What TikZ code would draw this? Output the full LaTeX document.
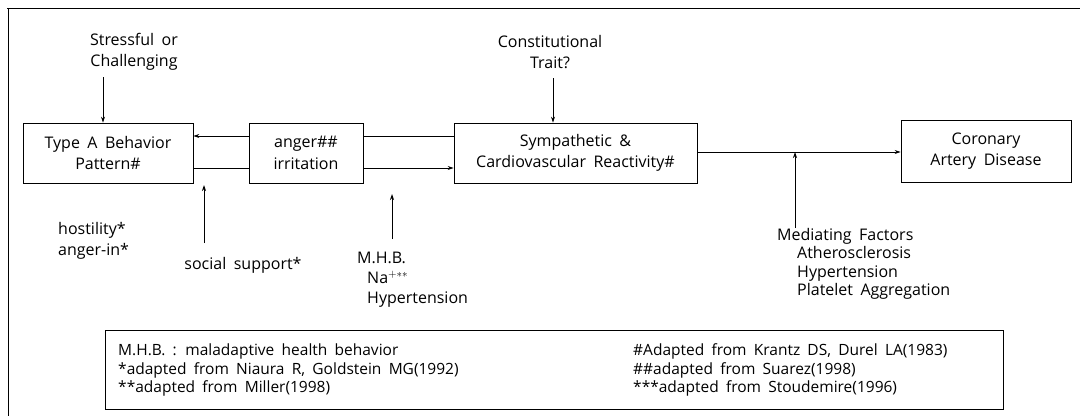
\documentclass[tikz,border=0pt]{standalone}
\usepackage{fontspec}
\setmainfont{Open Sans}[WordSpace=1.8]
\usetikzlibrary{arrows.meta}
\begin{document}
\begin{tikzpicture}[x=1pt,y=-1pt,
  every node/.style={font=\fontsize{16}{21.5}\selectfont},
  box/.style={draw,line width=0.8pt,align=center,inner sep=0pt},
  txt/.style={align=center,inner sep=0pt},
  ltxt/.style={align=left,inner sep=0pt,anchor=west},
  legtxt/.style={align=left,inner sep=0pt,anchor=west,font=\fontsize{15.5}{18.5}\selectfont},
  arr/.style={line width=0.8pt,-{Stealth[length=6pt,width=4pt]}},
  ln/.style={line width=0.8pt}]
\useasboundingbox (0,0) rectangle (1085,416);
% outer frame (top and left)
\draw[ln] (7,8) -- (1080,8);
\draw[ln] (8,8) -- (8,416);
% boxes
\node[box,minimum width=170pt,minimum height=60pt] (typeA) at (108,153) {Type A Behavior\\Pattern\#};
\node[box,minimum width=114pt,minimum height=60pt] (anger) at (306,153) {anger\#\#\\irritation};
\node[box,minimum width=243pt,minimum height=60pt] (symp) at (575.5,153) {Sympathetic \&\\Cardiovascular Reactivity\#};
\node[box,minimum width=170pt,minimum height=62pt] (cad) at (986,151) {Coronary\\Artery Disease};
% texts
\node[txt] (stress) at (134,52) {Stressful or\\Challenging};
\node[txt] (const) at (550,52) {Constitutional\\Trait?};
\node[ltxt] (host) at (58,241) {hostility*\\anger-in*};
\node[txt] (social) at (243,265) {social support*};
\node[ltxt,font=\fontsize{16}{20}\selectfont] (mhb) at (357,280) {M.H.B.\\\hspace*{10pt}Na$^{+**}$\\\hspace*{10pt}Hypertension};
\node[ltxt,font=\fontsize{16}{18.5}\selectfont] (medf) at (777,264) {Mediating Factors\\\hspace*{20pt}Atherosclerosis\\\hspace*{20pt}Hypertension\\\hspace*{20pt}Platelet Aggregation};
% connectors
\coordinate (s1) at (103,77);
\draw[arr] (s1) -- (s1 |- typeA.north);
\coordinate (c1) at (553,78);
\draw[arr] (c1) -- (c1 |- symp.north);
\draw[arr] ([yshift=17pt]anger.west) -- ([yshift=17pt]typeA.east);
\draw[ln] ([yshift=17pt]symp.west) -- ([yshift=17pt]anger.east);
\draw[ln] ([yshift=-15pt]typeA.east) -- ([yshift=-15pt]anger.west);
\draw[arr] ([yshift=-15pt]anger.east) -- ([yshift=-15pt]symp.west);
\coordinate (cadin) at (cad.west |- 0,152);
\draw[arr] (symp.east |- cadin) -- (cadin);
\coordinate (ss) at (204,243);
\draw[arr] (ss) -- (204,185);
\coordinate (mh) at (392,239);
\draw[arr] (mh) -- (392,194);
\coordinate (mf) at (795,228);
\draw[arr] (mf) -- (mf |- cadin);
% legend
\node[draw,line width=0.8pt,minimum width=898pt,minimum height=79pt,anchor=north west,inner sep=0pt] (legend) at (105,330) {};
\node[legtxt] (l1) at (118,370) {M.H.B. : maladaptive health behavior\\*adapted from Niaura R, Goldstein MG(1992)\\**adapted from Miller(1998)};
\node[legtxt] (l2) at (633,370) {\#Adapted from Krantz DS, Durel LA(1983)\\\#\#adapted from Suarez(1998)\\***adapted from Stoudemire(1996)};
\end{tikzpicture}
\end{document}
